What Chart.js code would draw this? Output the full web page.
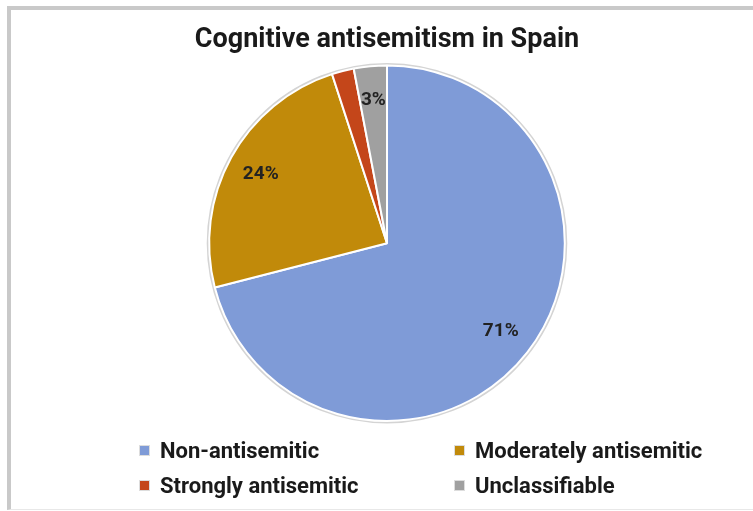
<!DOCTYPE html>
<html>
<head>
    <title>Cognitive antisemitism in Spain</title>
    <script src="https://cdn.jsdelivr.net/npm/chart.js"></script>
    <style>
        body {
            margin: 0;
            background: #fff;
        }
        #wrap {
            position: relative;
            width: 753px;
            height: 511px;
        }
        #frame {
            position: absolute;
            left: 7px;
            top: 6px;
            right: -10px;
            bottom: 1px;
            border-top: 4px solid #c9c9c9;
            border-left: 4px solid #c9c9c9;
            border-bottom: 1px solid #e8e8e8;
        }
        .legend-item {
            position: absolute;
            font-family: Roboto, sans-serif;
            font-weight: bold;
            font-size: 22px;
            color: #1a1a1a;
            line-height: 24px;
            white-space: nowrap;
        }
        .legend-item span {
            display: inline-block;
            width: 9px;
            height: 9px;
            margin-right: 11px;
            vertical-align: 3px;
            outline: 1px solid #ddd;
        }
    </style>
</head>
<body>
<div id="wrap">
    <div id="frame"></div>
    <canvas id="pieChart" width="753" height="511"></canvas>
    <div id="legend"></div>
</div>
<script>
    // data
    var categories = ['Non-antisemitic', 'Moderately antisemitic', 'Strongly antisemitic', 'Unclassifiable'];
    var shares = [71, 24, 2, 3];
    var sliceColors = ['#7f9bd7', '#c18a0a', '#c4461a', '#a0a0a0'];
    var shownLabels = [true, true, false, true]; // the 2% label is hidden in the original

    // legend, 2 columns like the original
    var legendPos = [[140, 439], [455, 439], [140, 474], [455, 474]];
    var legend = document.getElementById('legend');
    categories.forEach(function(name, i) {
        var item = document.createElement('div');
        item.className = 'legend-item';
        item.style.left = legendPos[i][0] + 'px';
        item.style.top = legendPos[i][1] + 'px';
        item.innerHTML = '<span style="background:' + sliceColors[i] + '"></span>' + name;
        legend.appendChild(item);
    });

    var ctx = document.getElementById('pieChart').getContext('2d');
    var pieChart = new Chart(ctx, {
        type: 'pie',
        data: {
            labels: categories,
            datasets: [{
                data: shares,
                backgroundColor: sliceColors,
                borderColor: '#ffffff',
                borderWidth: 2
            }]
        },
        options: {
            responsive: false,
            animation: false,
            layout: {
                padding: { left: 21, right: 0, top: 0, bottom: 89 }
            },
            plugins: {
                legend: { display: false },
                tooltip: { enabled: false },
                title: {
                    display: true,
                    text: 'Cognitive antisemitism in Spain',
                    color: '#1a1a1a',
                    font: { family: 'Roboto', size: 27, weight: 'bold' },
                    padding: { top: 24, bottom: 8 }
                }
            }
        },
        plugins: [{
            id: 'percentLabels',
            beforeDatasetsDraw: function(chart) {
                // faint grey rim round the pie
                var c = chart.ctx;
                var arc = chart.getDatasetMeta(0).data[0];
                c.save();
                c.beginPath();
                c.arc(arc.x, arc.y, arc.outerRadius + 1, 0, Math.PI * 2);
                c.strokeStyle = '#d4d4d4';
                c.lineWidth = 3;
                c.stroke();
                c.restore();
            },
            afterDatasetsDraw: function(chart) {
                var c = chart.ctx;
                var meta = chart.getDatasetMeta(0);
                c.save();
                c.font = 'bold 19px Roboto';
                c.fillStyle = '#222';
                c.textAlign = 'center';
                c.textBaseline = 'middle';
                meta.data.forEach(function(arc, i) {
                    if (!shownLabels[i]) return;
                    var p = arc.getProps(['x', 'y', 'startAngle', 'endAngle', 'outerRadius']);
                    var mid = (p.startAngle + p.endAngle) / 2;
                    var r = p.outerRadius * 0.81;
                    c.fillText(shares[i] + '%', p.x + Math.cos(mid) * r, p.y + Math.sin(mid) * r);
                });
                c.restore();
            }
        }]
    });
</script>
</body>
</html>
